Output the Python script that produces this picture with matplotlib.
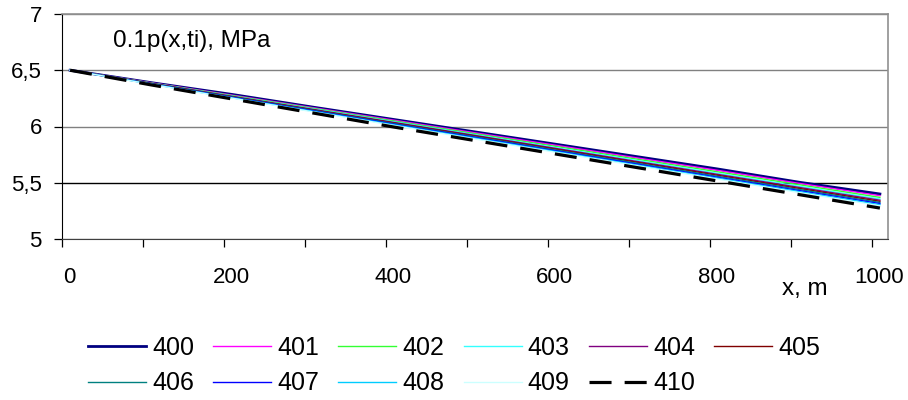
import numpy as np
import matplotlib
matplotlib.use('Agg')
import matplotlib.pyplot as plt
import matplotlib.transforms as mtransforms
from matplotlib.ticker import MultipleLocator, FuncFormatter

plt.rcParams['font.family'] = ['Liberation Sans', 'DejaVu Sans']

x = [10, 110, 210, 310, 410, 510, 610, 710, 810, 910, 1010]
names = ['400', '401', '402', '403', '404', '405', '406', '407', '408', '409', '410']
p400 = [6.5, 6.390, 6.285, 6.172, 6.062, 5.952, 5.842, 5.732, 5.622, 5.505, 5.400]
p401 = [6.5, 6.389, 6.279, 6.167, 6.056, 5.944, 5.833, 5.721, 5.610, 5.495, 5.385]
p402 = [6.5, 6.387, 6.275, 6.162, 6.049, 5.936, 5.823, 5.710, 5.597, 5.483, 5.370]
p403 = [6.5, 6.385, 6.270, 6.156, 6.041, 5.927, 5.812, 5.698, 5.583, 5.469, 5.355]
p404 = [6.5, 6.384, 6.268, 6.152, 6.036, 5.921, 5.805, 5.689, 5.574, 5.459, 5.345]
p405 = [6.5, 6.383, 6.265, 6.148, 6.031, 5.915, 5.798, 5.682, 5.566, 5.450, 5.335]
p406 = [6.5, 6.381, 6.262, 6.144, 6.026, 5.909, 5.791, 5.674, 5.557, 5.441, 5.325]
p407 = [6.5, 6.379, 6.259, 6.140, 6.021, 5.903, 5.784, 5.666, 5.548, 5.431, 5.315]
p408 = [6.5, 6.377, 6.255, 6.135, 6.015, 5.896, 5.777, 5.658, 5.540, 5.422, 5.305]
p409 = [6.5, 6.375, 6.252, 6.130, 6.009, 5.889, 5.770, 5.651, 5.532, 5.413, 5.295]
p410 = [6.5, 6.370, 6.245, 6.120, 5.995, 5.875, 5.755, 5.635, 5.515, 5.395, 5.275]
series = [p400, p401, p402, p403, p404, p405, p406, p407, p408, p409, p410]

colors = ['#000080', '#ff00ff', '#33ff33', '#33ffff', '#800080', '#800000',
          '#008080', '#0000ff', '#00ccff', '#ccffff', '#000000']
widths = [2.0, 1.0, 1.0, 1.0, 1.0, 1.0, 1.0, 1.0, 1.0, 1.0, 2.3]

fig = plt.figure(figsize=(9.08, 4.0), dpi=100)
ax = fig.add_axes([62 / 908, 1 - 239 / 400, (888 - 62) / 908, (239 - 14) / 400])

lines = []
for name, y, c, w in zip(names, series, colors, widths):
    if name == '410':
        ln, = ax.plot(x, y, color=c, lw=w, dashes=(6.9, 4.1), label=name)
    else:
        ln, = ax.plot(x, y, color=c, lw=w, label=name)
    lines.append(ln)

ax.set_xlim(0, 1020)
ax.set_ylim(5, 7)
ax.xaxis.set_major_locator(MultipleLocator(200))
ax.xaxis.set_minor_locator(MultipleLocator(100))
ax.yaxis.set_major_locator(MultipleLocator(0.5))
ax.yaxis.set_major_formatter(FuncFormatter(lambda v, pos: ('%g' % v).replace('.', ',')))
ax.tick_params(axis='both', which='both', direction='out', length=5.5, width=0.9, color='black')
ax.tick_params(axis='x', labelsize=16, pad=15)
ax.tick_params(axis='y', labelsize=16, pad=9)
offset = mtransforms.ScaledTranslation(7 / 100, 0, fig.dpi_scale_trans)
for lab in ax.get_xticklabels():
    lab.set_transform(lab.get_transform() + offset)

ax.grid(axis='y', color='#808080', lw=1.0)
for gl, val in zip(ax.get_ygridlines(), ax.get_yticks()):
    if abs(val - 5.5) < 1e-6:
        gl.set_color('black')
ax.set_axisbelow(True)
for sp in ['top', 'right']:
    ax.spines[sp].set_color('#909090')
    ax.spines[sp].set_linewidth(1.2)
ax.spines['left'].set_color('black')
ax.spines['bottom'].set_color('#404040')

fig.text(113 / 908, 1 - 47 / 400, '0.1p(x,ti), MPa', fontsize=17.5, va='baseline')
fig.text(782 / 908, 1 - 295 / 400, 'x, m', fontsize=17.5, va='baseline')

order = [0, 6, 1, 7, 2, 8, 3, 9, 4, 10, 5]
fig.legend([lines[i] for i in order], [names[i] for i in order], ncol=6,
           loc='upper left', bbox_to_anchor=(88 / 908, 1 - 336 / 400), frameon=False,
           fontsize=18, handlelength=2.32, handletextpad=0.24, columnspacing=0.77,
           labelspacing=0.45, borderpad=0, borderaxespad=0)

fig.savefig('out.png', dpi=100)
